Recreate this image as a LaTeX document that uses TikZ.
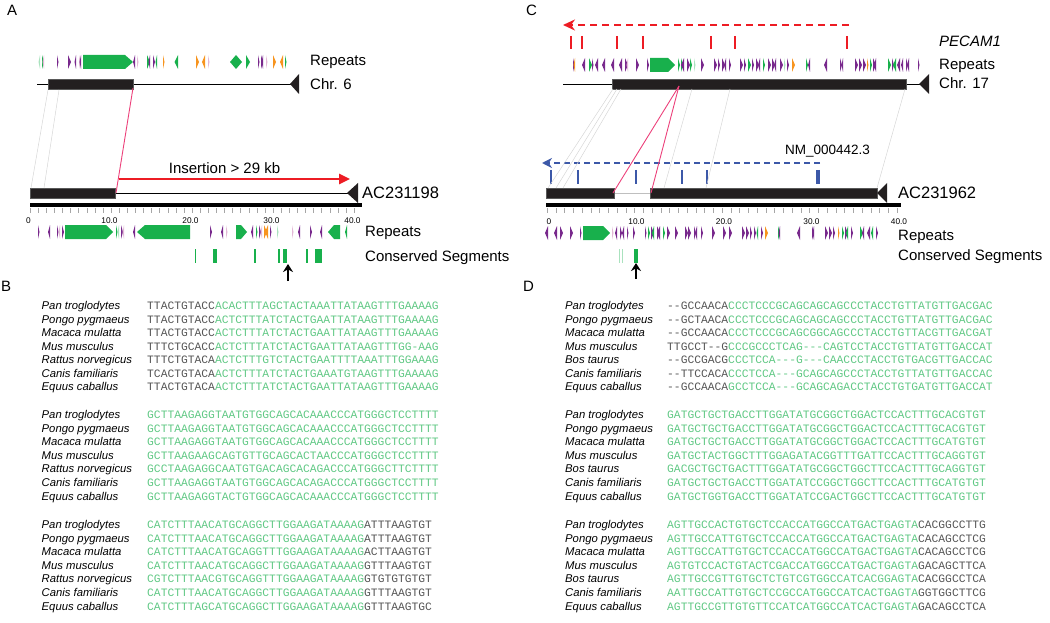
\documentclass[tikz,border=0pt]{standalone}
\usepackage{fontspec}
\setmainfont{Liberation Sans}
\setmonofont{Liberation Mono}
\usepackage{xcolor}
\usepackage{tikz}
\usetikzlibrary{arrows.meta, positioning}

\definecolor{rpurple}{RGB}{120,40,140}
\definecolor{rpurplelt}{RGB}{226,184,214}
\definecolor{rgreen}{RGB}{24,176,76}
\definecolor{rgreenlt}{RGB}{170,226,190}
\definecolor{rorange}{RGB}{247,148,30}
\definecolor{seqgreen}{RGB}{96,200,132}
\definecolor{seqgray}{RGB}{85,85,85}
\definecolor{pinklink}{RGB}{236,64,122}
\definecolor{insred}{RGB}{237,28,36}
\definecolor{geneblue}{RGB}{60,88,168}
\definecolor{blockblack}{RGB}{35,31,32}

\tikzstyle{panellabel} = [anchor=base west, inner sep=0, font=\fontsize{15}{18}\selectfont]
\tikzstyle{tracklabel} = [anchor=base west, inner sep=0, font=\fontsize{15}{18}\selectfont]
\tikzstyle{acclabel} = [anchor=base west, inner sep=0, font=\fontsize{16.5}{19}\selectfont]
\tikzstyle{species} = [anchor=base west, inner sep=0, font=\fontsize{11.3}{13}\selectfont\itshape]
\tikzstyle{seqtext} = [anchor=base west, inner sep=0, font=\fontsize{11.3}{13}\selectfont\ttfamily]
\tikzstyle{rulernum} = [anchor=base, inner sep=0, font=\fontsize{8.3}{10}\selectfont]
\tikzstyle{block} = [fill=blockblack, draw=black!65, line width=0.5pt]
\tikzstyle{chrline} = [line width=0.9pt, black]
\tikzstyle{ruler} = [line width=4pt, black]
\tikzstyle{rulertick} = [line width=0.4pt, black!35]
\tikzstyle{synteny} = [line width=0.5pt, black!16]
\tikzstyle{inverted} = [line width=0.9pt, pinklink]
\tikzstyle{insarrow} = [line width=2.5pt, insred, -{Triangle[length=11pt,width=10pt]}]
\tikzstyle{genearrow} = [line width=2.5pt, insred, dash pattern=on 7pt off 5pt, -{Stealth[length=12pt,width=11pt]}]
\tikzstyle{refseqarrow} = [line width=2pt, geneblue, dash pattern=on 6pt off 4pt, -{Stealth[length=10pt,width=10pt]}]
\tikzstyle{marker} = [line width=1.6pt, black, -{Stealth[length=8pt,width=10pt]}]

\begin{document}
\begin{tikzpicture}[x=1pt, y=-1pt]
    \useasboundingbox (0,0) rectangle (1050,623);

    % panel letters
    \node[panellabel] (labA) at (7,16) {A};
    \node[panellabel] (labB) at (1,291) {B};
    \node[panellabel] (labC) at (526,16) {C};
    \node[panellabel] (labD) at (523,291) {D};

    % ---------------- A
    % repeats on chr. 6
    \foreach \rx/\rw/\rc in {40/-1.5/rgreenlt, 42/2/rgreen, 44/-1.5/rpurplelt, 57/1.5/rpurple, 68/3/rpurple, 76/-1.5/rpurple, 79/1.5/rpurplelt, 81/-1.5/rpurple, 135/-2/rpurple, 137/1.5/rpurplelt, 147/3/rgreen, 150/-1.5/rpurple, 153/2/rpurple, 157/-1.5/rgreen, 163/1.5/rorange, 178/-3.5/rgreen, 196/3/rorange, 205/-3/rorange, 208/1.5/rpurplelt, 246/4/rgreen, 258/1.5/rpurple, 261/2/rpurple, 263/-1.5/rpurple, 266/1.5/rpurplelt, 273/3/rorange, 283/-3/rorange, 285/1.5/rgreen}
        \fill[\rc] (\rx,55) -- ({\rx+(\rw)},62) -- (\rx,69) -- cycle;
    \fill[rgreen] (83,55) -- (125,55) -- (133,62) -- (125,69) -- (83,69) -- cycle;
    \fill[rgreen] (230,62) -- (236,55) -- (242,62) -- (236,69) -- cycle;
    \node[tracklabel] (repA) at (310,66) {Repeats};

    % chr. 6
    \draw[chrline] (37,84) -- (292,84);
    \filldraw[block] (48,79) rectangle (133,89);
    \fill[blockblack] (290,84) -- (299,74) -- (299,94) -- cycle;
    \node[tracklabel] (chrsix) at (310,90) {Chr. 6};
    \coordinate (sixL1) at (48,90);
    \coordinate (sixL2) at (59,90);
    \coordinate (sixR) at (133,88);

    % insertion
    \coordinate (insL) at (119,179);
    \coordinate (insR) at (350,179);
    \draw[insarrow] (insL) -- (insR);
    \node[anchor=base, inner sep=0, font=\fontsize{15}{18}\selectfont] (instext) at (224.5,173.5) {Insertion > 29 kb};

    % AC231198
    \draw[chrline] (30,193) -- (350,193);
    \filldraw[block] (30,188) rectangle (115,198);
    \fill[blockblack] (347,193) -- (358,183) -- (358,203) -- cycle;
    \node[acclabel] (accA) at (362,199) {AC231198};
    \coordinate (accL1) at (31,188);
    \coordinate (accL2) at (44,188);
    \coordinate (accR) at (116,193);

    \draw[synteny] (sixL1) -- (accL1);
    \draw[synteny] (sixL2) -- (accL2);
    \draw[inverted] (sixR) -- (accR);

    % ruler
    \draw[ruler] (30,205) -- (362,205);
    \foreach \k in {0,...,40}
        \draw[rulertick] ({30+8.1*\k},208) -- ({30+8.1*\k},213);
    \foreach \k/\t in {0/0, 10/10.0, 20/20.0, 30/30.0, 40/40.0}
        \node[rulernum] (rA\k) at ({28.5+8.1*\k},223) {\t};

    % repeats on AC231198
    \foreach \rx/\rw/\rc in {38/1.5/rpurple, 50/-2/rpurple, 57/1.5/rpurple, 60/-1.5/rpurplelt, 62/2/rpurple, 116/1.5/rgreen, 119/-1.5/rgreenlt, 121/2/rpurple, 124/-1.5/rpurplelt, 135/-2/rpurple, 210/2/rpurple, 223/-2/rpurple, 226/1.5/rpurplelt, 253/-2/rpurple, 256/1.5/rgreen, 259/2/rpurple, 262/-1.5/rpurplelt, 264/3/rorange, 268/-3/rorange, 270/1.5/rpurple, 277/1.5/rgreenlt, 292/1.5/rpurplelt, 300/-2/rpurple, 310/2/rpurple, 322/-2/rpurple, 347/-2/rgreen}
        \fill[\rc] (\rx,225) -- ({\rx+(\rw)},232) -- (\rx,239) -- cycle;
    \fill[rgreen] (65,225) -- (106,225) -- (113,232) -- (106,239) -- (65,239) -- cycle;
    \fill[rgreen] (137,232) -- (145,225) -- (190,225) -- (190,239) -- (145,239) -- cycle;
    \fill[rgreen] (236,225) -- (241,225) -- (247,232) -- (241,239) -- (236,239) -- cycle;
    \fill[rgreen] (328,232) -- (334,225) -- (340,225) -- (340,239) -- (334,239) -- cycle;
    \node[tracklabel] (repA2) at (365,236) {Repeats};

    % conserved segments
    \foreach \xa/\xb in {194.5/195.5, 213/217, 254/255.5, 278/280, 283/287, 306/308, 315/322}
        \fill[rgreen] (\xa,249) rectangle (\xb,263);
    \node[tracklabel] (consA) at (365,261) {Conserved Segments};
    \coordinate (markA) at (288,281);
    \coordinate (markAtip) at (288,264);
    \draw[marker] (markA) -- (markAtip);

    % ---------------- C
    \coordinate (pecamR) at (849,25);
    \coordinate (pecamL) at (563,25);
    \draw[genearrow] (pecamR) -- (pecamL);
    \foreach \x in {571,582,617,643,711,735,847}
        \draw[insred, line width=2pt] (\x,36) -- (\x,49);
    \node[tracklabel, font=\fontsize{15}{18}\selectfont\itshape] (pecam) at (939,47) {PECAM1};

    % repeats on chr. 17
    \foreach \rx/\rw/\rc in {573/1.5/rpurple, 575/-1.5/rorange, 585/-3/rpurple, 589/3/rgreen, 592/1.5/rpurple, 598/-3/rpurple, 605/-3/rpurple, 614/-3/rpurple, 622/-3/rpurple, 625/3/rpurple, 628/-1.5/rpurplelt, 636/3/rpurple, 647/2/rpurple, 678/2/rgreen, 681/2/rgreen, 684/-3/rpurple, 687/3/rpurple, 690/2/rgreen, 694/1.5/rgreenlt, 701/3/rpurple, 714/3/rpurple, 718/2/rpurple, 722/3/rpurple, 726/-2/rpurple, 729/2/rpurple, 740/3/rpurple, 744/2/rpurple, 748/3/rgreen, 752/2/rpurple, 756/3/rpurple, 760/-2/rpurple, 763/2/rgreen, 768/3/rpurple, 772/3/rpurple, 776/-2/rpurple, 780/3/rpurple, 784/1.5/rgreenlt, 787/2/rpurple, 792/3/rorange, 806/2/rgreen, 810/-2/rpurple, 827/-3/rpurple, 840/2/rpurple, 843/-1.5/rpurple, 855/3/rpurple, 859/3/rpurple, 863/3/rpurple, 867/1.5/rorange, 870/2/rgreen, 873/3/rpurple, 876/-2/rpurple, 888/3/rgreen, 892/2/rpurple, 896/-3/rgreen, 900/-3/rpurple, 903/-2/rpurple, 906/2/rpurple, 909/-2/rpurple, 918/1.5/rpurple}
        \fill[\rc] (\rx,58) -- ({\rx+(\rw)},65) -- (\rx,72) -- cycle;
    \fill[rgreen] (650,58) -- (668,58) -- (675,65) -- (668,72) -- (650,72) -- cycle;
    \node[tracklabel] (repC) at (939,70) {Repeats};

    % chr. 17
    \draw[chrline] (563,84) -- (921,84);
    \filldraw[block] (612,79) rectangle (906,89);
    \fill[blockblack] (919,84) -- (929,74) -- (929,94) -- cycle;
    \node[tracklabel] (chrseventeen) at (939,89) {Chr. 17};

    % NM_000442.3
    \coordinate (nmR) at (820,163);
    \coordinate (nmL) at (542,163);
    \draw[refseqarrow] (nmR) -- (nmL);
    \foreach \x in {551,578,636,682,707}
        \draw[geneblue, line width=2pt] (\x,170) -- (\x,184);
    \draw[geneblue, line width=4pt] (818,170) -- (818,184);
    \node[anchor=base west, inner sep=0, font=\fontsize{13.5}{16}\selectfont] (nmtext) at (785,155) {NM\_000442.3};

    % AC231962
    \draw[line width=0.5pt, black!25] (614,193) -- (650,193);
    \filldraw[block] (546,188) rectangle (614,198);
    \filldraw[block] (650,188) rectangle (877,198);
    \fill[blockblack] (877,193) -- (887,183) -- (887,203) -- cycle;
    \node[acclabel] (accC) at (898,199) {AC231962};

    % links chr. 17 -> AC231962
    \foreach \xa/\xb in {613/548, 617/556, 621/563, 692/664, 730/706, 905/877}
        \draw[synteny] (\xa,89) -- (\xb,188);
    \coordinate (seventeenX) at (679,86);
    \coordinate (accC1) at (613,193);
    \coordinate (accC2) at (651,193);
    \draw[inverted] (seventeenX) -- (accC1);
    \draw[inverted] (seventeenX) -- (accC2);

    % ruler
    \draw[ruler] (546,205) -- (901,205);
    \foreach \k in {0,...,40}
        \draw[rulertick] ({547+8.75*\k},208) -- ({547+8.75*\k},213);
    \foreach \k/\t in {0/0, 10/10.0, 20/20.0, 30/30.0, 40/40.0}
        \node[rulernum] (rC\k) at ({549+8.75*\k},224) {\t};

    % repeats on AC231962
    \foreach \rx/\rw/\rc in {548/-3/rpurple, 557/-3/rpurple, 560/3/rpurple, 570/3/rpurple, 580/1.5/rpurple, 612/1.5/rpurplelt, 617/-2/rpurple, 620/2/rpurple, 624/-2/rpurple, 627/1.5/rpurple, 633/2/rpurple, 645/1.5/rpurple, 648/2/rgreen, 651/3/rpurple, 654/-2/rgreen, 657/3/rpurple, 660/-3/rpurple, 663/2/rgreen, 667/3/rpurple, 675/3/rpurple, 685/3/rpurple, 688/3/rpurple, 694/2/rpurple, 697/-2/rpurple, 701/2/rpurple, 712/3/rpurple, 723/3/rpurple, 729/3/rpurple, 742/3/rpurple, 746/3/rpurple, 750/2/rpurple, 754/2/rpurple, 758/-1.5/rgreen, 761/2/rpurple, 765/3/rorange, 778/2/rgreen, 780/-1.5/rpurple, 800/-3/rpurple, 812/2/rpurple, 814/-1.5/rpurple, 825/3/rpurple, 829/3/rpurple, 833/2/rpurple, 838/1.5/rorange, 842/2/rgreen, 845/3/rpurple, 848/-2/rgreen, 851/2/rpurple, 860/3/rgreen, 864/-2/rpurple, 870/-3/rpurple, 873/-2/rgreen, 876/2/rpurple}
        \fill[\rc] (\rx,226) -- ({\rx+(\rw)},233) -- (\rx,240) -- cycle;
    \fill[rgreen] (583,226) -- (603,226) -- (610,233) -- (603,240) -- (583,240) -- cycle;
    \node[tracklabel] (repC2) at (898,240.5) {Repeats};

    % conserved segments
    \fill[rgreenlt] (619,249) rectangle (620,263);
    \fill[rgreenlt] (622,249) rectangle (623,263);
    \fill[rgreen] (634,249) rectangle (637.5,263);
    \node[tracklabel] (consC) at (898,260) {Conserved Segments};
    \coordinate (markC) at (636,279);
    \coordinate (markCtip) at (636,263);
    \draw[marker] (markC) -- (markCtip);

    % ---------------- B
    \foreach \i/\spname/\pa/\pb in {1/Pan troglodytes/TTACTGTACC/ACACTTTAGCTACTAAATTATAAGTTTGAAAAG, 2/Pongo pygmaeus/TTACTGTACC/ACTCTTTATCTACTGAATTATAAGTTTGAAAAG, 3/Macaca mulatta/TTACTGTACC/ACTCTTTATCTACTGAATTATAAGTTTGAAAAG, 4/Mus musculus/TTTCTGCACC/ACTCTTTATCTACTGAATTATAAGTTTGG-AAG, 5/Rattus norvegicus/TTTCTGTACA/ACTCTTTGTCTACTGAATTTTAAATTTGGAAAG, 6/Canis familiaris/TCACTGTACA/ACTCTTTATCTACTGAAATGTAAGTTTGAAAAG, 7/Equus caballus/TTACTGTACA/ACTCTTTATCTACTGAATTATAAGTTTGAAAAG} {
        \node[species] (spB1\i) at (41.5,{309.5+13.55*(\i-1)}) {\spname};
        \node[seqtext] (sqB1\i) at (147,{309.5+13.55*(\i-1)}) {\textcolor{seqgray}{\pa}\textcolor{seqgreen}{\pb}};
    }
    \foreach \i/\spname/\pa in {1/Pan troglodytes/GCTTAAGAGGTAATGTGGCAGCACAAACCCATGGGCTCCTTTT, 2/Pongo pygmaeus/GCTTAAGAGGTAATGTGGCAGCACAAACCCATGGGCTCCTTTT, 3/Macaca mulatta/GCTTAAGAGGTAATGTGGCAGCACAAACCCATGGGCTCCTTTT, 4/Mus musculus/GCTTAAGAAGCAGTGTTGCAGCACTAACCCATGGGCTCCTTTT, 5/Rattus norvegicus/GCCTAAGAGGCAATGTGACAGCACAGACCCATGGGCTTCTTTT, 6/Canis familiaris/GCTTAAGAGGTAATGTGGCAGCACAGACCCATGGGCTCCTTTT, 7/Equus caballus/GCTTAAGAGGTACTGTGGCAGCACAAACCCATGGGCTCCTTTT} {
        \node[species] (spB2\i) at (41.5,{418.5+13.6*(\i-1)}) {\spname};
        \node[seqtext] (sqB2\i) at (147,{418.5+13.6*(\i-1)}) {\textcolor{seqgreen}{\pa}};
    }
    \foreach \i/\spname/\pa/\pb in {1/Pan troglodytes/CATCTTTAACATGCAGGCTTGGAAGATAAAAG/ATTTAAGTGT, 2/Pongo pygmaeus/CATCTTTAACATGCAGGCTTGGAAGATAAAAG/ATTTAAGTGT, 3/Macaca mulatta/CATCTTTAACATGCAGGTTTGGAAGATAAAAG/ACTTAAGTGT, 4/Mus musculus/CATCTTTAACATGCAGGCTTGGAAGATAAAAG/GTTTAAGTGT, 5/Rattus norvegicus/CGTCTTTAACGTGCAGGTTTGGAAGATAAAAG/GTGTGTGTGT, 6/Canis familiaris/CATCTTTAACATGCAGGCTTGGAAGATAAAAG/GTTTAAGTGT, 7/Equus caballus/CATCTTTAGCATGCAGGCTTGGAAGATAAAAG/GTTTAAGTGC} {
        \node[species] (spB3\i) at (41.5,{528.5+13.6*(\i-1)}) {\spname};
        \node[seqtext] (sqB3\i) at (147,{528.5+13.6*(\i-1)}) {\textcolor{seqgreen}{\pa}\textcolor{seqgray}{\pb}};
    }

    % ---------------- D
    \foreach \i/\spname/\pa/\pb in {1/Pan troglodytes/--GCCAACA/CCCTCCCGCAGCAGCAGCCCTACCTGTTATGTTGACGAC, 2/Pongo pygmaeus/--GCTAACA/CCCTCCCGCAGCAGCAGCCCTACCTGTTATGTTGACGAC, 3/Macaca mulatta/--GCCAACA/CCCTCCCGCAGCGGCAGCCCTACCTGTTACGTTGACGAT, 4/Mus musculus/TTGCCT--G/CCCGCCCTCAG---CAGTCCTACCTGTTATGTTGACCAT, 5/Bos taurus/--GCCGACG/CCCTCCA---G---CAACCCTACCTGTGACGTTGACCAC, 6/Canis familiaris/--TTCCACA/CCCTCCA---GCAGCAGCCCTACCTGTTATGTTGACCAC, 7/Equus caballus/--GCCAACA/GCCTCCA---GCAGCAGACCTACCTGTGATGTTGACCAT} {
        \node[species] (spD1\i) at (565,{309.5+13.55*(\i-1)}) {\spname};
        \node[seqtext] (sqD1\i) at (667,{309.5+13.55*(\i-1)}) {\textcolor{seqgray}{\pa}\textcolor{seqgreen}{\pb}};
    }
    \foreach \i/\spname/\pa in {1/Pan troglodytes/GATGCTGCTGACCTTGGATATGCGGCTGGACTCCACTTTGCACGTGT, 2/Pongo pygmaeus/GATGCTGCTGACCTTGGATATGCGGCTGGACTCCACTTTGCACGTGT, 3/Macaca mulatta/GATGCTGCTGACCTTGGATATGCGGCTGGACTCCACTTTGCATGTGT, 4/Mus musculus/GATGCTACTGGCTTTGGAGATACGGTTTGATTCCACTTTGCAGGTGT, 5/Bos taurus/GACGCTGCTGACTTTGGATATGCGGCTGGCTTCCACTTTGCAGGTGT, 6/Canis familiaris/GATGCTGCTGACCTTGGATATCCGGCTGGCTTCCACTTTGCATGTGT, 7/Equus caballus/GATGCTGGTGACCTTGGATATCCGACTGGCTTCCACTTTGCATGTGT} {
        \node[species] (spD2\i) at (565,{418.5+13.6*(\i-1)}) {\spname};
        \node[seqtext] (sqD2\i) at (667,{418.5+13.6*(\i-1)}) {\textcolor{seqgreen}{\pa}};
    }
    \foreach \i/\spname/\pa/\pb in {1/Pan troglodytes/AGTTGCCACTGTGCTCCACCATGGCCATGACTGAGTA/CACGGCCTTG, 2/Pongo pygmaeus/AGTTGCCATTGTGCTCCACCATGGCCATGACTGAGTA/CACAGCCTCG, 3/Macaca mulatta/AGTTGCCATTGTGCTCCACCATGGCCATGACTGAGTA/CACAGCCTCG, 4/Mus musculus/AGTGTCCACTGTACTCGACCATGGCCATGACTGAGTA/GACAGCTTCA, 5/Bos taurus/AGTTGCCGTTGTGCTCTGTCGTGGCCATCACGGAGTA/CACGGCCTCA, 6/Canis familiaris/AATTGCCATTGTGCTCCGCCATGGCCATCACTGAGTA/GGTGGCTTCG, 7/Equus caballus/AGTTGCCGTTGTGTTCCATCATGGCCATCACTGAGTA/GACAGCCTCA} {
        \node[species] (spD3\i) at (565,{528.5+13.6*(\i-1)}) {\spname};
        \node[seqtext] (sqD3\i) at (667,{528.5+13.6*(\i-1)}) {\textcolor{seqgreen}{\pa}\textcolor{seqgray}{\pb}};
    }
\end{tikzpicture}
\end{document}
